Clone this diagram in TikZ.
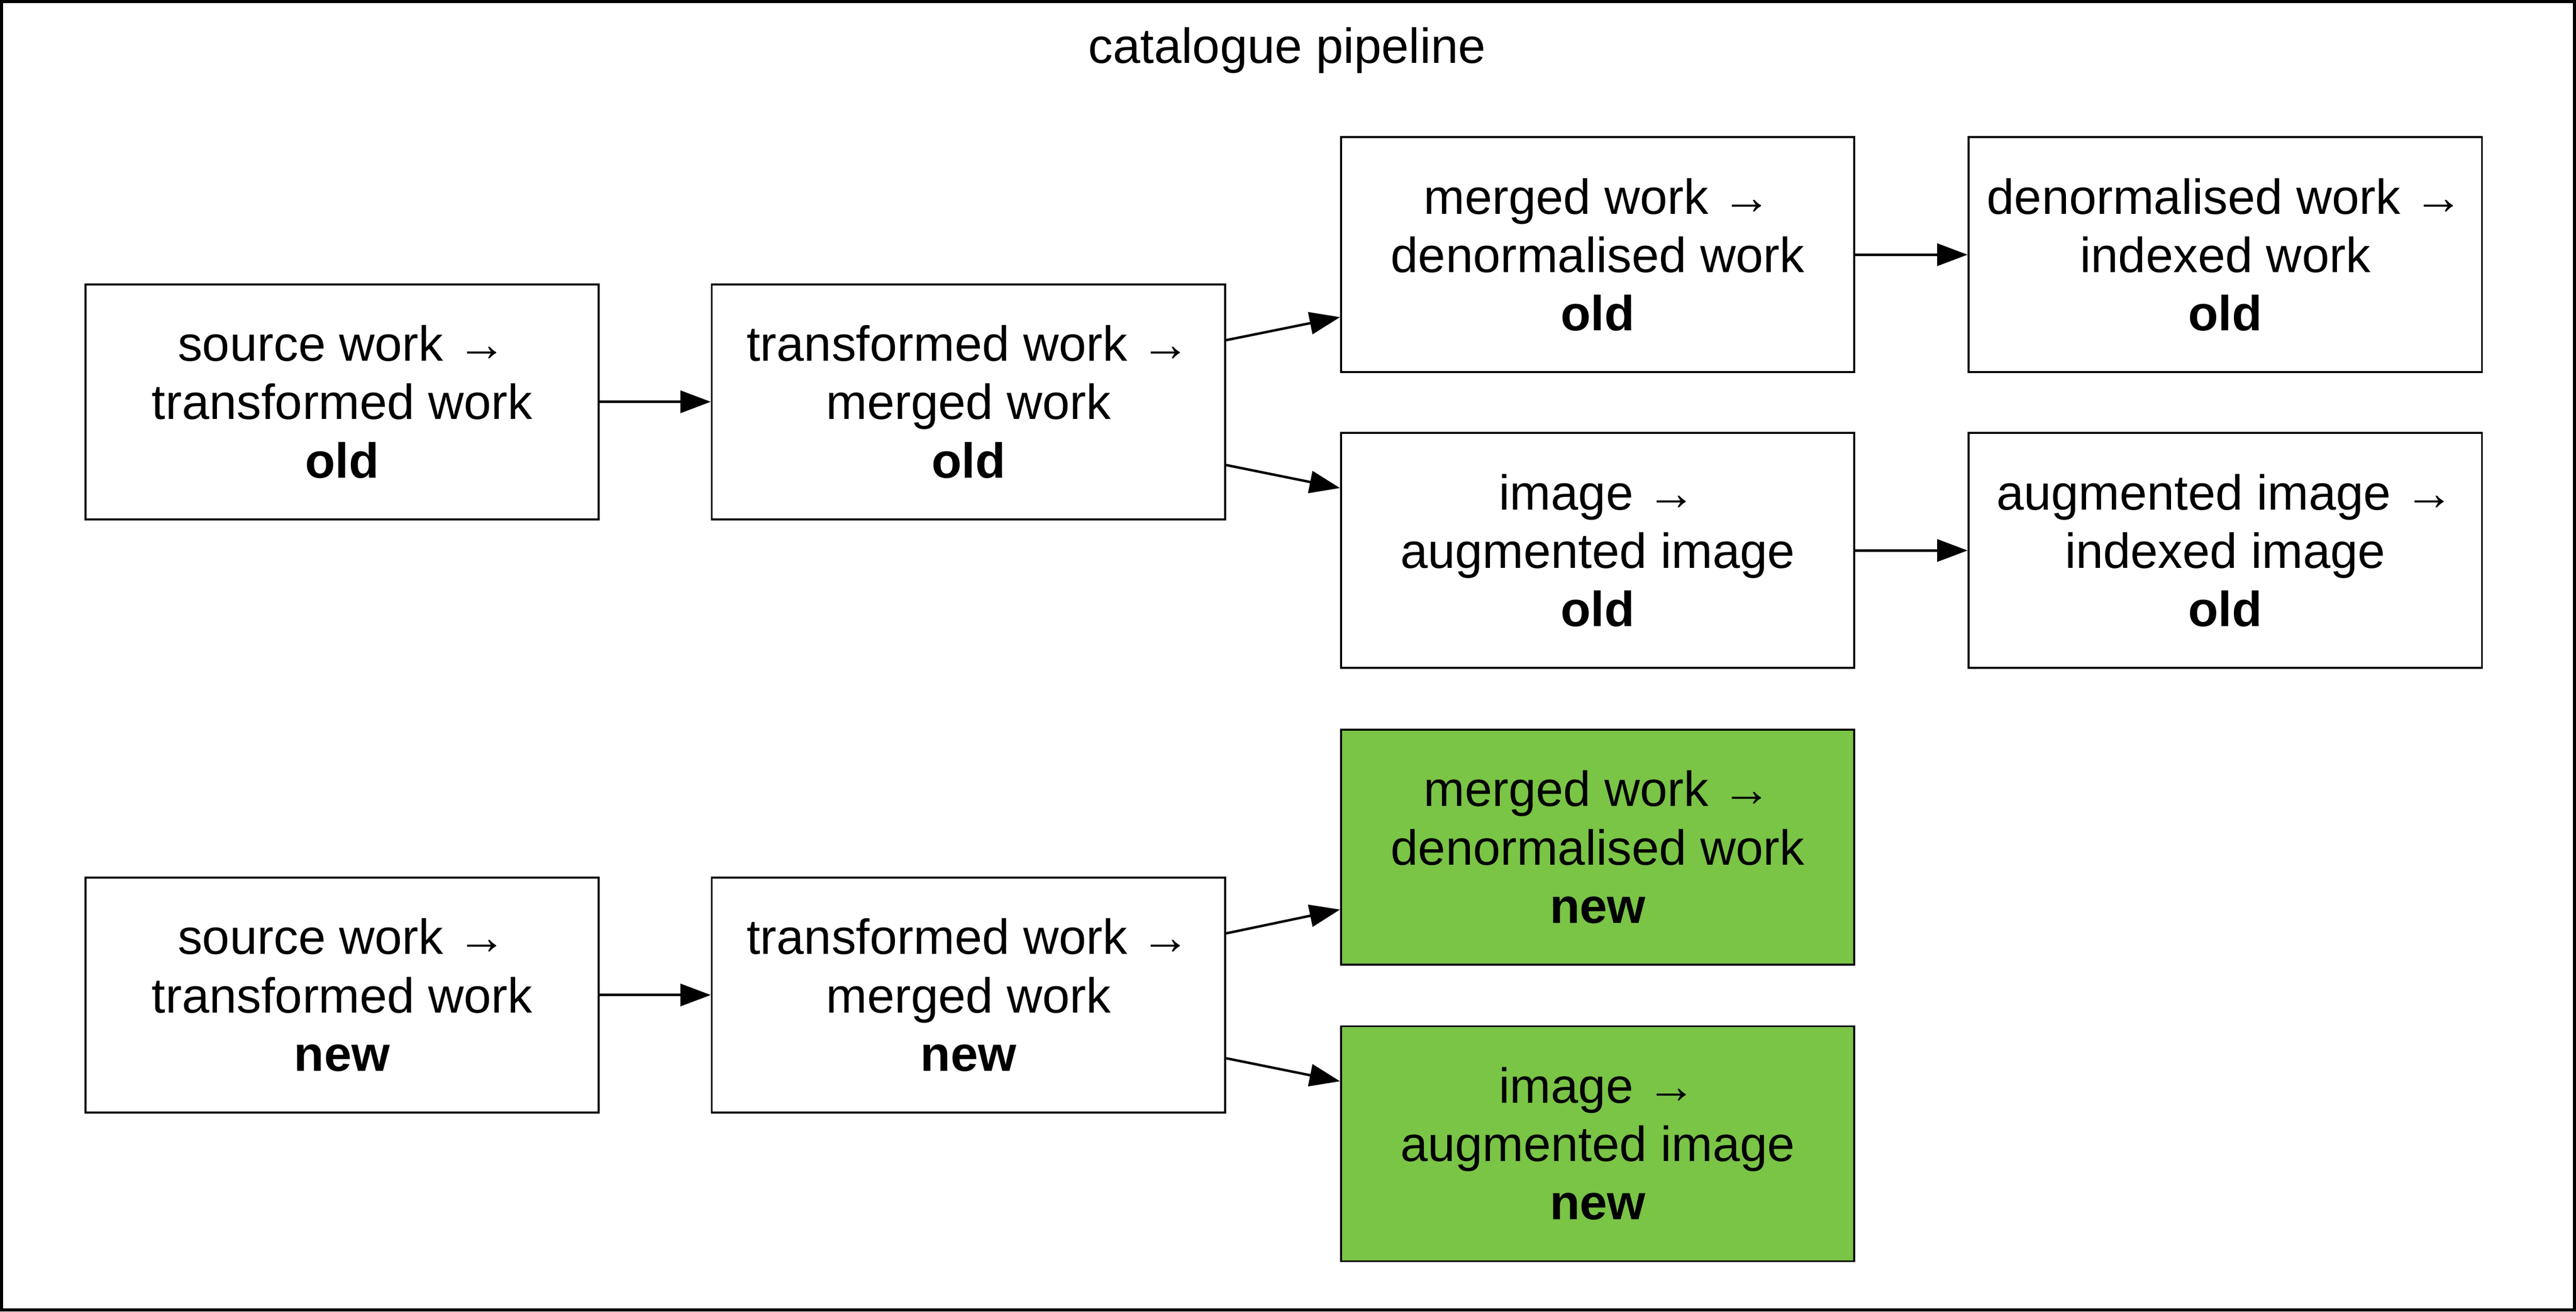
\documentclass[tikz,border=0pt]{standalone}
\usepackage{fontspec}
\setmainfont{Liberation Sans}
\usetikzlibrary{arrows.meta}
\definecolor{newgreen}{RGB}{122,196,70}
\begin{document}
\begin{tikzpicture}[x=1pt,y=-1pt,
  box/.style={draw, line width=1.2pt, minimum width=312.5pt, minimum height=143pt,
    inner sep=0pt, align=center, font=\fontsize{30}{35.5}\selectfont},
  newbox/.style={box, fill=newgreen},
  conn/.style={line width=1.5pt, -{Triangle[length=18.5pt,width=13.5pt]}}]
\useasboundingbox (0,0) rectangle (1568,798.15);
\draw[line width=2pt] (1,1) rectangle (1567,797.15);
\node[anchor=base, font=\fontsize{30}{36}\selectfont] (title) at (783.5,38.4) {catalogue pipeline};

% old row
\node[box] (s1) at (208.25,244.5) {source work →\\transformed work\\\textbf{old}};
\node[box] (t1) at (589.5,244.5) {transformed work →\\merged work\\\textbf{old}};
\node[box] (m1) at (972.5,155) {merged work →\\denormalised work\\\textbf{old}};
\node[box] (i1) at (972.5,335) {image →\\augmented image\\\textbf{old}};
\node[box] (d1) at (1354.5,155) {denormalised work →\\indexed work\\\textbf{old}};
\node[box] (a1) at (1354.5,335) {augmented image →\\indexed image\\\textbf{old}};

% new row
\node[box] (s2) at (208.25,605.5) {source work →\\transformed work\\\textbf{new}};
\node[box] (t2) at (589.5,605.5) {transformed work →\\merged work\\\textbf{new}};
\node[newbox] (m2) at (972.5,515.5) {merged work →\\denormalised work\\\textbf{new}};
\node[newbox] (i2) at (972.5,696) {image →\\augmented image\\\textbf{new}};

% connectors
\draw[conn] (s1.east) -- (t1.west);
\draw[conn] ([yshift=37.5pt]t1.east) -- ([yshift=-38pt]m1.west);
\draw[conn] ([yshift=-38.5pt]t1.east) -- ([yshift=38pt]i1.west);
\draw[conn] (m1.east) -- (d1.west);
\draw[conn] (i1.east) -- (a1.west);

\draw[conn] (s2.east) -- (t2.west);
\draw[conn] ([yshift=37.5pt]t2.east) -- ([yshift=-38pt]m2.west);
\draw[conn] ([yshift=-38.5pt]t2.east) -- ([yshift=38pt]i2.west);
\end{tikzpicture}
\end{document}
